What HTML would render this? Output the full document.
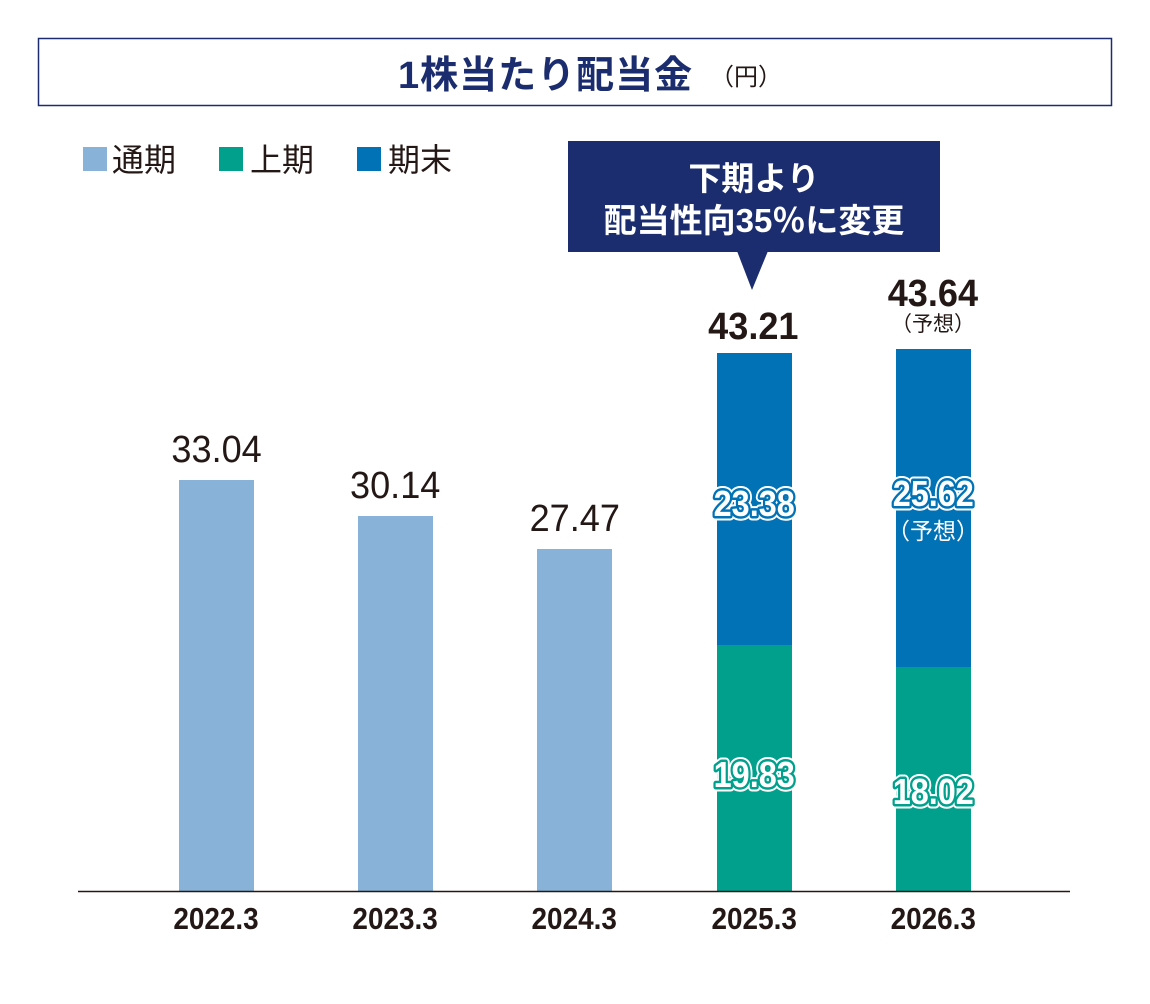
<!DOCTYPE html><html><head><meta charset="utf-8"><style>body{margin:0;background:#fff}svg{display:block}</style></head><body>
<svg width="1150" height="1004" xmlns="http://www.w3.org/2000/svg" font-family="'Liberation Sans','Noto Sans CJK JP',sans-serif">
<rect x="38.5" y="38.5" width="1073" height="67" fill="#fff" stroke="#1b2d6e" stroke-width="1.5"/>
<text x="398" y="88" font-size="38" font-weight="bold" fill="#1b2d6e" letter-spacing="1">1株当たり配当金</text>
<text x="710" y="85" font-size="24" fill="#231815">（円）</text>
<rect x="83" y="147" width="24" height="24" fill="#89b2d8"/><text x="112" y="171" font-size="32" fill="#231815">通期</text>
<rect x="219" y="147" width="24" height="24" fill="#00a08d"/><text x="250" y="171" font-size="32" fill="#231815">上期</text>
<rect x="357" y="147" width="24" height="24" fill="#0072b5"/><text x="388" y="171" font-size="32" fill="#231815">期末</text>
<rect x="568" y="141" width="372" height="111" fill="#1b2d6e"/>
<polygon points="737,251 768,251 752,290" fill="#1b2d6e"/>
<text x="754" y="190" text-anchor="middle" font-size="33" font-weight="bold" fill="#fff">下期より</text>
<text x="754" y="232" text-anchor="middle" font-size="33" font-weight="bold" fill="#fff">配当性向35％に変更</text>
<rect x="179" y="480" width="75" height="411" fill="#89b2d8"/>
<rect x="358" y="516" width="75" height="375" fill="#89b2d8"/>
<rect x="537" y="549" width="75" height="342" fill="#89b2d8"/>
<rect x="717" y="645" width="75" height="246" fill="#00a08d"/>
<rect x="717" y="353" width="75" height="292" fill="#0072b5"/>
<rect x="896" y="667" width="75" height="224" fill="#00a08d"/>
<rect x="896" y="349" width="75" height="318" fill="#0072b5"/>
<line x1="78" y1="891.5" x2="1070" y2="891.5" stroke="#231815" stroke-width="1.5"/>
<g font-size="38" fill="#231815" text-anchor="middle" transform="scale(0.95,1)">
<text x="228" y="462">33.04</text><text x="416" y="498">30.14</text><text x="605" y="531">27.47</text>
<text x="793" y="339" font-weight="bold">43.21</text><text x="982" y="306" font-weight="bold">43.64</text>
</g>
<text x="933" y="331" text-anchor="middle" font-size="21" fill="#231815">（予想）</text>
<g font-size="36" font-weight="bold" text-anchor="middle" transform="scale(0.9,1)" stroke-linejoin="round">
<g stroke="#fff" stroke-width="9" fill="#fff"><text x="838" y="516">23.38</text><text x="1037" y="506">25.62</text><text x="838" y="787">19.83</text><text x="1037" y="804">18.02</text></g>
<g stroke-width="5" fill="#fff" paint-order="stroke"><text x="838" y="516" stroke="#0072b5">23.38</text><text x="1037" y="506" stroke="#0072b5">25.62</text><text x="838" y="787" stroke="#00a08d">19.83</text><text x="1037" y="804" stroke="#00a08d">18.02</text></g>
</g>
<text x="933" y="539" text-anchor="middle" font-size="23" fill="#fff" stroke="#0072b5" stroke-width="4" paint-order="stroke">（予想）</text>
<g font-size="31" font-weight="bold" fill="#231815" text-anchor="middle" transform="scale(0.9,1)">
<text x="240" y="929">2022.3</text><text x="439" y="929">2023.3</text><text x="638" y="929">2024.3</text><text x="838" y="929">2025.3</text><text x="1037" y="929">2026.3</text>
</g>
</svg>
</body></html>
